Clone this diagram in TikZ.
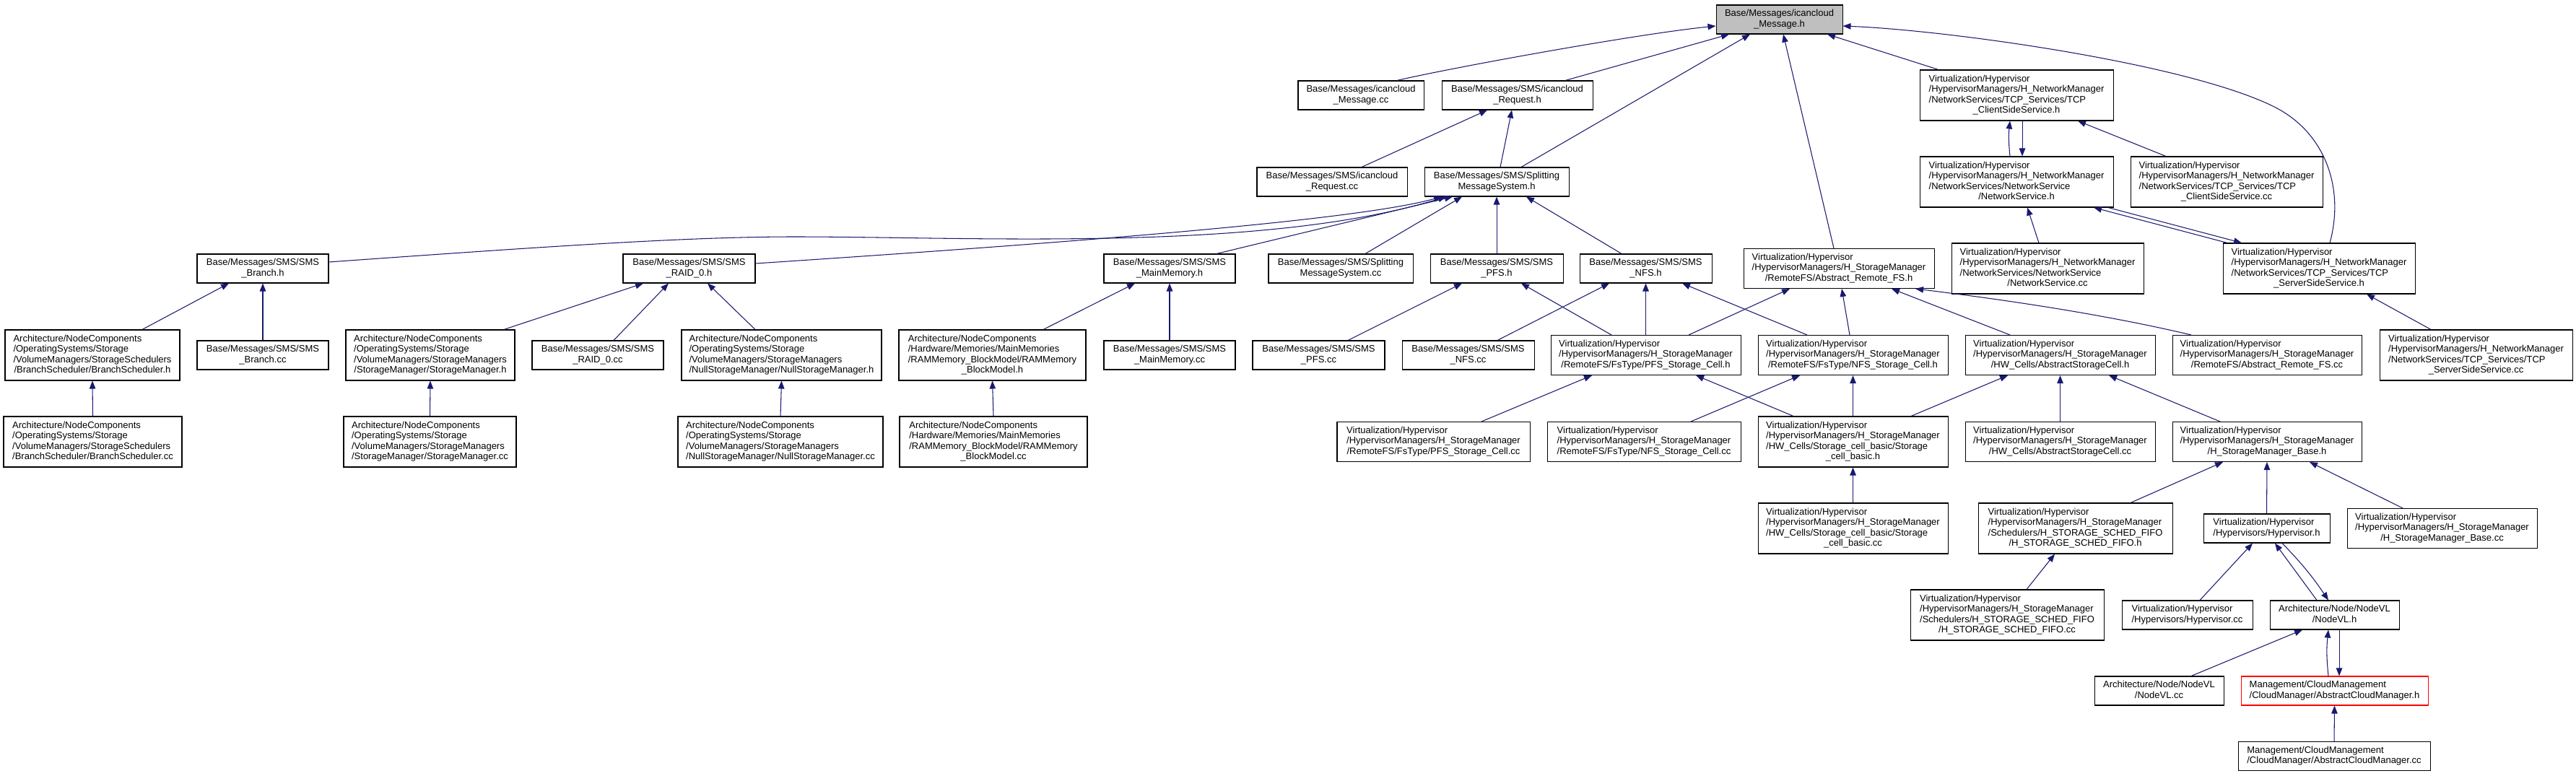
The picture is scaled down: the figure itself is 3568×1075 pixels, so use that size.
\documentclass[tikz,border=0pt]{standalone}
\usepackage{fontspec}
\setmainfont{Liberation Sans}
\usetikzlibrary{arrows.meta}
\definecolor{edgeblue}{HTML}{191970}
\definecolor{rootgray}{HTML}{BFBFBF}
\newcommand{\lbl}[2]{\begin{tabular}{@{}l@{}}#1\\\multicolumn{1}{@{}c@{}}{#2}\end{tabular}}
\begin{document}
\begin{tikzpicture}[x=1pt,y=-1pt,
  box/.style={draw=black,line width=1.05pt,fill=white,inner xsep=0pt,inner ysep=0pt,font=\fontsize{13}{14.6}\selectfont},
  ntwo/.style={minimum height=40pt},
  nthree/.style={minimum height=55pt},
  nfour/.style={minimum height=70pt},
  edge/.style={draw=edgeblue,line width=1.05pt,-{Triangle[length=11pt,width=8.5pt]}}]
\fill[white] (0,0) rectangle (3568,1075);
\useasboundingbox (0,0) rectangle (3568,1075);

% row 0
\node[box,ntwo,minimum width=175pt,fill=rootgray] (R) at (2464.5,27) {\lbl{Base/Messages/icancloud}{\_Message.h}};
% row 1
\node[box,ntwo,minimum width=174pt] (A1) at (1885,132) {\lbl{Base/Messages/icancloud}{\_Message.cc}};
\node[box,ntwo,minimum width=209pt] (A2) at (2101.5,132) {\lbl{Base/Messages/SMS/icancloud}{\_Request.h}};
\node[box,nfour,minimum width=268pt] (NW1) at (2793,132) {\lbl{Virtualization/Hypervisor\\/HypervisorManagers/H\_NetworkManager\\/NetworkServices/TCP\_Services/TCP}{\_ClientSideService.h}};
% row 2
\node[box,ntwo,minimum width=208pt] (B1) at (1845,252) {\lbl{Base/Messages/SMS/icancloud}{\_Request.cc}};
\node[box,ntwo,minimum width=200pt] (B2) at (2073,252) {\lbl{Base/Messages/SMS/Splitting}{MessageSystem.h}};
\node[box,nfour,minimum width=268pt] (NW2) at (2793,252) {\lbl{Virtualization/Hypervisor\\/HypervisorManagers/H\_NetworkManager\\/NetworkServices/NetworkService}{/NetworkService.h}};
\node[box,nfour,minimum width=266pt] (NW3) at (3084,252) {\lbl{Virtualization/Hypervisor\\/HypervisorManagers/H\_NetworkManager\\/NetworkServices/TCP\_Services/TCP}{\_ClientSideService.cc}};
% row 3
\node[box,ntwo,minimum width=182pt] (Branchh) at (364,372) {\lbl{Base/Messages/SMS/SMS}{\_Branch.h}};
\node[box,ntwo,minimum width=183pt] (RAIDh) at (954.5,372) {\lbl{Base/Messages/SMS/SMS}{\_RAID\_0.h}};
\node[box,ntwo,minimum width=182pt] (MMh) at (1620,372) {\lbl{Base/Messages/SMS/SMS}{\_MainMemory.h}};
\node[box,ntwo,minimum width=200pt] (SMScc) at (1857,372) {\lbl{Base/Messages/SMS/Splitting}{MessageSystem.cc}};
\node[box,ntwo,minimum width=184pt] (PFSh) at (2073,372) {\lbl{Base/Messages/SMS/SMS}{\_PFS.h}};
\node[box,ntwo,minimum width=183pt] (NFSh) at (2279.5,372) {\lbl{Base/Messages/SMS/SMS}{\_NFS.h}};
\node[box,nthree,minimum width=264pt] (ARFSh) at (2547,372) {\lbl{Virtualization/Hypervisor\\/HypervisorManagers/H\_StorageManager}{/RemoteFS/Abstract\_Remote\_FS.h}};
\node[box,nfour,minimum width=266pt] (NScc) at (2836,372) {\lbl{Virtualization/Hypervisor\\/HypervisorManagers/H\_NetworkManager\\/NetworkServices/NetworkService}{/NetworkService.cc}};
\node[box,nfour,minimum width=266pt] (SSh) at (3212,372) {\lbl{Virtualization/Hypervisor\\/HypervisorManagers/H\_NetworkManager\\/NetworkServices/TCP\_Services/TCP}{\_ServerSideService.h}};
% row 4
\node[box,nfour,minimum width=242pt] (BSh) at (128,492) {\lbl{Architecture/NodeComponents\\/OperatingSystems/Storage\\/VolumeManagers/StorageSchedulers}{/BranchScheduler/BranchScheduler.h}};
\node[box,ntwo,minimum width=182pt] (Branchcc) at (364,492) {\lbl{Base/Messages/SMS/SMS}{\_Branch.cc}};
\node[box,nfour,minimum width=234pt] (SMh) at (596,492) {\lbl{Architecture/NodeComponents\\/OperatingSystems/Storage\\/VolumeManagers/StorageManagers}{/StorageManager/StorageManager.h}};
\node[box,ntwo,minimum width=182pt] (RAIDcc) at (828,492) {\lbl{Base/Messages/SMS/SMS}{\_RAID\_0.cc}};
\node[box,nfour,minimum width=277pt] (NSMh) at (1082.5,492) {\lbl{Architecture/NodeComponents\\/OperatingSystems/Storage\\/VolumeManagers/StorageManagers}{/NullStorageManager/NullStorageManager.h}};
\node[box,nfour,minimum width=259pt] (RAMh) at (1374.5,492) {\lbl{Architecture/NodeComponents\\/Hardware/Memories/MainMemories\\/RAMMemory\_BlockModel/RAMMemory}{\_BlockModel.h}};
\node[box,ntwo,minimum width=182pt] (MMcc) at (1620,492) {\lbl{Base/Messages/SMS/SMS}{\_MainMemory.cc}};
\node[box,ntwo,minimum width=183pt] (PFScc) at (1826.5,492) {\lbl{Base/Messages/SMS/SMS}{\_PFS.cc}};
\node[box,ntwo,minimum width=183pt] (NFScc) at (2033.5,492) {\lbl{Base/Messages/SMS/SMS}{\_NFS.cc}};
\node[box,nthree,minimum width=263pt] (PFSCh) at (2279.5,492) {\lbl{Virtualization/Hypervisor\\/HypervisorManagers/H\_StorageManager}{/RemoteFS/FsType/PFS\_Storage\_Cell.h}};
\node[box,nthree,minimum width=263pt] (NFSCh) at (2566.5,492) {\lbl{Virtualization/Hypervisor\\/HypervisorManagers/H\_StorageManager}{/RemoteFS/FsType/NFS\_Storage\_Cell.h}};
\node[box,nthree,minimum width=263pt] (ASCh) at (2853.5,492) {\lbl{Virtualization/Hypervisor\\/HypervisorManagers/H\_StorageManager}{/HW\_Cells/AbstractStorageCell.h}};
\node[box,nthree,minimum width=262pt] (ARFScc) at (3140,492) {\lbl{Virtualization/Hypervisor\\/HypervisorManagers/H\_StorageManager}{/RemoteFS/Abstract\_Remote\_FS.cc}};
\node[box,nfour,minimum width=267pt] (SScc) at (3429.5,492) {\lbl{Virtualization/Hypervisor\\/HypervisorManagers/H\_NetworkManager\\/NetworkServices/TCP\_Services/TCP}{\_ServerSideService.cc}};
% row 5
\node[box,nfour,minimum width=247pt] (BScc) at (128.5,612) {\lbl{Architecture/NodeComponents\\/OperatingSystems/Storage\\/VolumeManagers/StorageSchedulers}{/BranchScheduler/BranchScheduler.cc}};
\node[box,nfour,minimum width=239pt] (SMcc) at (595.5,612) {\lbl{Architecture/NodeComponents\\/OperatingSystems/Storage\\/VolumeManagers/StorageManagers}{/StorageManager/StorageManager.cc}};
\node[box,nfour,minimum width=284pt] (NSMcc) at (1081,612) {\lbl{Architecture/NodeComponents\\/OperatingSystems/Storage\\/VolumeManagers/StorageManagers}{/NullStorageManager/NullStorageManager.cc}};
\node[box,nfour,minimum width=260pt] (RAMcc) at (1376,612) {\lbl{Architecture/NodeComponents\\/Hardware/Memories/MainMemories\\/RAMMemory\_BlockModel/RAMMemory}{\_BlockModel.cc}};
\node[box,nthree,minimum width=267pt] (PFSCcc) at (1985.5,612) {\lbl{Virtualization/Hypervisor\\/HypervisorManagers/H\_StorageManager}{/RemoteFS/FsType/PFS\_Storage\_Cell.cc}};
\node[box,nthree,minimum width=268pt] (NFSCcc) at (2277,612) {\lbl{Virtualization/Hypervisor\\/HypervisorManagers/H\_StorageManager}{/RemoteFS/FsType/NFS\_Storage\_Cell.cc}};
\node[box,nfour,minimum width=263pt] (SCBh) at (2566.5,612) {\lbl{Virtualization/Hypervisor\\/HypervisorManagers/H\_StorageManager\\/HW\_Cells/Storage\_cell\_basic/Storage}{\_cell\_basic.h}};
\node[box,nthree,minimum width=263pt] (ASCcc) at (2853.5,612) {\lbl{Virtualization/Hypervisor\\/HypervisorManagers/H\_StorageManager}{/HW\_Cells/AbstractStorageCell.cc}};
\node[box,nthree,minimum width=262pt] (HSMBh) at (3140,612) {\lbl{Virtualization/Hypervisor\\/HypervisorManagers/H\_StorageManager}{/H\_StorageManager\_Base.h}};
% row 6
\node[box,nfour,minimum width=263pt] (SCBcc) at (2566.5,732) {\lbl{Virtualization/Hypervisor\\/HypervisorManagers/H\_StorageManager\\/HW\_Cells/Storage\_cell\_basic/Storage}{\_cell\_basic.cc}};
\node[box,nfour,minimum width=269pt] (FIFOh) at (2874.5,732) {\lbl{Virtualization/Hypervisor\\/HypervisorManagers/H\_StorageManager\\/Schedulers/H\_STORAGE\_SCHED\_FIFO}{/H\_STORAGE\_SCHED\_FIFO.h}};
\node[box,ntwo,minimum width=175pt] (Hyph) at (3139.5,732) {\lbl{Virtualization/Hypervisor}{/Hypervisors/Hypervisor.h}};
\node[box,nthree,minimum width=263pt] (HSMBcc) at (3382.5,732) {\lbl{Virtualization/Hypervisor\\/HypervisorManagers/H\_StorageManager}{/H\_StorageManager\_Base.cc}};
% row 7
\node[box,nfour,minimum width=268pt] (FIFOcc) at (2780,852) {\lbl{Virtualization/Hypervisor\\/HypervisorManagers/H\_StorageManager\\/Schedulers/H\_STORAGE\_SCHED\_FIFO}{/H\_STORAGE\_SCHED\_FIFO.cc}};
\node[box,ntwo,minimum width=181pt] (Hypcc) at (3029.5,852) {\lbl{Virtualization/Hypervisor}{/Hypervisors/Hypervisor.cc}};
\node[box,ntwo,minimum width=179pt] (NodeVLh) at (3233.5,852) {\lbl{Architecture/Node/NodeVL}{/NodeVL.h}};
% row 8
\node[box,ntwo,minimum width=179pt] (NodeVLcc) at (2990.5,957) {\lbl{Architecture/Node/NodeVL}{/NodeVL.cc}};
\node[box,ntwo,minimum width=259pt,draw=red] (ACMh) at (3233.5,957) {\lbl{Management/CloudManagement}{/CloudManager/AbstractCloudManager.h}};
% row 9
\node[box,ntwo,minimum width=266pt] (ACMcc) at (3233,1047.5) {\lbl{Management/CloudManagement}{/CloudManager/AbstractCloudManager.cc}};

% edges into root
\draw[edge] ([xshift=50pt]A1.north) .. controls (2000,96) and (2260,48) .. ([yshift=-9pt]R.west);
\draw[edge] ([xshift=66.5pt]A2.north) -- ([xshift=-69.5pt]R.south);
\draw[edge] ([xshift=34pt]B2.north) -- ([xshift=-40.5pt]R.south);
\draw[edge] ([xshift=-7pt]ARFSh.north) -- ([xshift=5.5pt]R.south);
\draw[edge] ([xshift=-108pt]NW1.north) -- ([xshift=66.5pt]R.south);
\draw[edge] ([xshift=15pt]SSh.north) .. controls (3248,260) and (3220,183) .. (3150,148) .. controls (3030,88) and (2700,42) .. ([yshift=-9pt]R.east);
% request
\draw[edge] ([xshift=41pt]B1.north) -- ([xshift=-41.5pt]A2.south);
\draw[edge] ([xshift=5pt]B2.north) -- ([xshift=-7.5pt]A2.south);
% network
\draw[edge] ([xshift=-9pt]NW2.north) to[bend left=6] ([xshift=-9pt]NW1.south);
\draw[edge] ([xshift=8pt]NW1.south) -- ([xshift=8pt]NW2.north);
\draw[edge] ([xshift=-84pt]NW3.north) -- ([xshift=85pt]NW1.south);
\draw[edge] ([xshift=-12pt]NScc.north) -- ([xshift=15pt]NW2.south);
\draw[edge] ([xshift=-127pt]SSh.north) -- ([xshift=107pt]NW2.south);
\draw[edge] ([xshift=127pt]NW2.south) -- ([xshift=-107pt]SSh.north);
\draw[edge] ([xshift=-62.5pt]SScc.north) -- ([xshift=66pt]SSh.south);
% into splitting message system
\draw[edge] ([yshift=9pt]Branchh.east) .. controls (750,342) and (950,328) .. (1100,328) .. controls (1350,328) and (1750,350) .. ([xshift=-70pt]B2.south);
\draw[edge] ([yshift=7pt]RAIDh.east) .. controls (1500,335) and (1880,305) .. ([xshift=-76pt]B2.south);
\draw[edge] ([xshift=65pt]MMh.north) -- ([xshift=-61pt]B2.south);
\draw[edge] ([xshift=34pt]SMScc.north) -- ([xshift=-48pt]B2.south);
\draw[edge] (PFSh.north) -- (B2.south);
\draw[edge] ([xshift=-33.5pt]NFSh.north) -- ([xshift=41pt]B2.south);
% row 4 -> row 3
\draw[edge] ([xshift=69pt]BSh.north) -- ([xshift=-47pt]Branchh.south);
\draw[edge] (Branchcc.north) -- (Branchh.south);
\draw[edge] ([xshift=102pt]SMh.north) -- ([xshift=-63.5pt]RAIDh.south);
\draw[edge] ([xshift=22pt]RAIDcc.north) -- ([xshift=-28.5pt]RAIDh.south);
\draw[edge] ([xshift=-36.5pt]NSMh.north) -- ([xshift=25.5pt]RAIDh.south);
\draw[edge] ([xshift=70.5pt]RAMh.north) -- ([xshift=-48pt]MMh.south);
\draw[edge] (MMcc.north) -- (MMh.south);
\draw[edge] ([xshift=40.5pt]PFScc.north) -- ([xshift=-48pt]PFSh.south);
\draw[edge] ([xshift=-47.5pt]PFSCh.north) -- ([xshift=34pt]PFSh.south);
\draw[edge] ([xshift=40.5pt]NFScc.north) -- ([xshift=-50.5pt]NFSh.south);
\draw[edge] (PFSCh.north) -- (NFSh.south);
\draw[edge] ([xshift=-63.5pt]NFSCh.north) -- ([xshift=50.5pt]NFSh.south);
\draw[edge] ([xshift=59.5pt]PFSCh.north) -- ([xshift=-68pt]ARFSh.south);
\draw[edge] ([xshift=-4.5pt]NFSCh.north) -- ([xshift=4pt]ARFSh.south);
\draw[edge] ([xshift=-69.5pt]ASCh.north) -- ([xshift=73pt]ARFSh.south);
\draw[edge] ([xshift=-105pt]ARFScc.north) .. controls (2900,432) and (2750,412) .. ([xshift=106pt]ARFSh.south);
% row 5 -> row 4
\draw[edge] (BScc.north) -- (BSh.south);
\draw[edge] (SMcc.north) -- (SMh.south);
\draw[edge] (NSMcc.north) -- (NSMh.south);
\draw[edge] (RAMcc.north) -- (RAMh.south);
\draw[edge] ([xshift=66.5pt]PFSCcc.north) -- ([xshift=-74.5pt]PFSCh.south);
\draw[edge] ([xshift=-82.5pt]SCBh.north) -- ([xshift=69.5pt]PFSCh.south);
\draw[edge] ([xshift=65pt]NFSCcc.north) -- ([xshift=-73.5pt]NFSCh.south);
\draw[edge] (SCBh.north) -- (NFSCh.south);
\draw[edge] ([xshift=80.5pt]SCBh.north) -- ([xshift=-72.5pt]ASCh.south);
\draw[edge] (ASCcc.north) -- (ASCh.south);
\draw[edge] ([xshift=-65pt]HSMBh.north) -- ([xshift=67.5pt]ASCh.south);
% row 6 -> row 5
\draw[edge] (SCBcc.north) -- (SCBh.south);
\draw[edge] ([xshift=76.5pt]FIFOh.north) -- ([xshift=-61pt]HSMBh.south);
\draw[edge] (Hyph.north) -- (HSMBh.south);
\draw[edge] ([xshift=-54.5pt]HSMBcc.north) -- ([xshift=59pt]HSMBh.south);
% row 7 -> row 6
\draw[edge] ([xshift=27pt]FIFOcc.north) -- ([xshift=-28.5pt]FIFOh.south);
\draw[edge] ([xshift=17.5pt]Hypcc.north) -- ([xshift=-19.5pt]Hyph.south);
\draw[edge] ([xshift=-24.5pt]NodeVLh.north) -- ([xshift=11.5pt]Hyph.south);
\draw[edge] ([xshift=21.5pt]Hyph.south) to[bend left=5] ([xshift=-8.5pt]NodeVLh.north);
% row 8 -> row 7
\draw[edge] ([xshift=44.5pt]NodeVLcc.north) -- ([xshift=-44.5pt]NodeVLh.south);
\draw[edge] ([xshift=-8.5pt]ACMh.north) to[bend left=6] ([xshift=-8.5pt]NodeVLh.south);
\draw[edge] ([xshift=6.5pt]NodeVLh.south) -- ([xshift=6.5pt]ACMh.north);
% row 9 -> row 8
\draw[edge] (ACMcc.north) -- (ACMh.south);
\end{tikzpicture}
\end{document}
